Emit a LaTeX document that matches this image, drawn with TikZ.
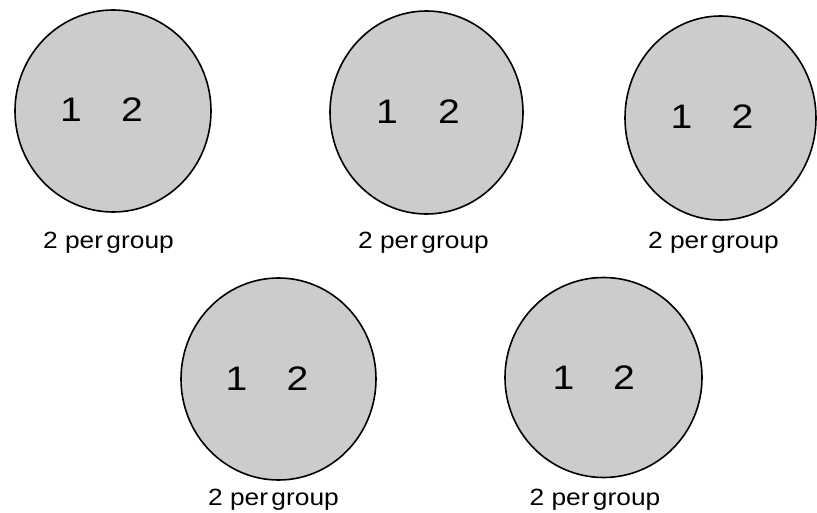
\documentclass[tikz,border=0pt]{standalone}
\usepackage{fontspec}
\setmainfont{Liberation Sans}
\definecolor{grp}{HTML}{CCCCCC}
\newcommand{\grptext}{2\kern6.5pt per\kern3pt group}
\begin{document}
\begin{tikzpicture}[x=1pt,y=-1pt,
  grpcirc/.style={draw=black,line width=1.6pt,fill=grp},
  num/.style={anchor=base,inner sep=0pt,xscale=1.15,font=\fontsize{34}{38}\selectfont},
  grplabel/.style={anchor=base,inner sep=0pt,xscale=1.12,font=\fontsize{23.5}{26}\selectfont}]
\useasboundingbox (0,0) rectangle (817,513);
% circles
\draw[grpcirc] (113,111) ellipse [x radius=98,y radius=101];
\draw[grpcirc] (426.5,112.5) ellipse [x radius=96.5,y radius=101.5];
\draw[grpcirc] (720.5,118) ellipse [x radius=95.5,y radius=102];
\draw[grpcirc] (278.5,379) ellipse [x radius=97.5,y radius=101];
\draw[grpcirc] (603.5,377.5) ellipse [x radius=98.5,y radius=100];
% numbers
\node[num] (a1) at (71,122) {1};
\node[num] (a2) at (132,122) {2};
\node[num] (b1) at (387,124) {1};
\node[num] (b2) at (449,124) {2};
\node[num] (c1) at (681.5,129) {1};
\node[num] (c2) at (742.5,129) {2};
\node[num] (d1) at (236.5,390) {1};
\node[num] (d2) at (297.5,390) {2};
\node[num] (e1) at (563.5,389) {1};
\node[num] (e2) at (624,389) {2};
% captions
\node[grplabel] (la) at (108.5,249) {\grptext};
\node[grplabel] (lb) at (423.5,249) {\grptext};
\node[grplabel] (lc) at (713.5,249) {\grptext};
\node[grplabel] (ld) at (273.5,505) {\grptext};
\node[grplabel] (le) at (595,505) {\grptext};
\end{tikzpicture}
\end{document}
